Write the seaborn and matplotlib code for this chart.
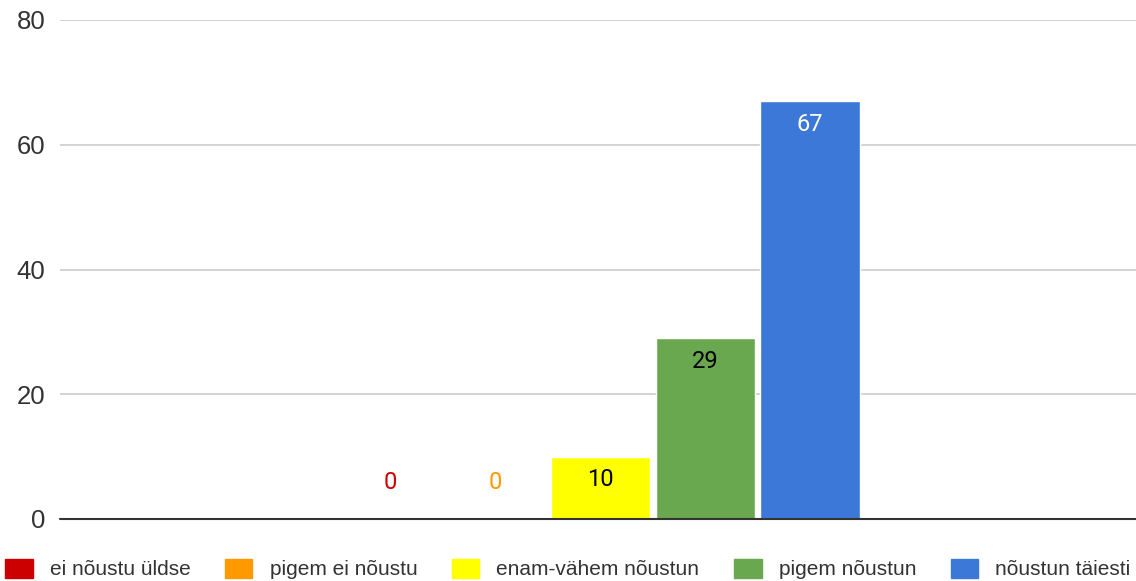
import matplotlib
matplotlib.use("Agg")
import matplotlib.pyplot as plt
import seaborn as sns
import pandas as pd

categories = ["ei nõustu üldse", "pigem ei nõustu", "enam-vähem nõustun",
              "pigem nõustun", "nõustun täiesti"]
values = [0, 0, 10, 29, 67]
colors = ["#cc0000", "#ff9900", "#ffff00", "#6aa84f", "#3c78d8"]
label_colors = ["#cc0000", "#ff9900", "#000000", "#000000", "#ffffff"]
yticks = [0, 20, 40, 60, 80]

df = pd.DataFrame({"group": ["x"] * len(values), "answer": categories, "count": values})

sns.set_style("white")
plt.rcParams["font.family"] = ["Liberation Sans", "DejaVu Sans"]

fig = plt.figure(figsize=(11.36, 5.81), dpi=100)
ax = fig.add_axes([60 / 1136, 1 - 519 / 581, 1 - 55 / 1136, 499 / 581])

sns.barplot(data=df, x="group", y="count", hue="answer", hue_order=categories,
            palette=colors, width=0.485, gap=0.05, saturation=1, ax=ax,
            legend=False)

ax.set_ylim(0, 80)
ax.set_xlim(-0.5, 0.5)
ax.set_yticks(yticks)
ax.set_xticks([])
ax.set_xlabel("")
ax.set_ylabel("")
ax.tick_params(axis="y", length=0, pad=10.5, labelsize=18.5, labelcolor="#333333")
for s in ax.spines.values():
    s.set_visible(False)
for t in yticks[1:]:
    ax.axhline(t, color="#cccccc", lw=1.2, zorder=0)
ax.axhline(0, color="#333333", lw=1.5, zorder=3, clip_on=False)

for cont, val, lc in zip(ax.containers, values, label_colors):
    bar = cont[0]
    cx = bar.get_x() + bar.get_width() / 2
    if val == 0:
        ax.annotate(str(val), (cx, 0), xytext=(0, 26), textcoords="offset points",
                    ha="center", va="center", fontsize=17, color=lc,
                    family="Roboto")
    else:
        ax.annotate(str(val), (cx, val), xytext=(0, -16.5), textcoords="offset points",
                    ha="center", va="center", fontsize=17, color=lc,
                    family="Roboto")

handles = [plt.Rectangle((0, 0), 1, 1, color=c) for c in colors]
fig.legend(handles, categories, loc="center", bbox_to_anchor=(0.5, 1 - 569 / 581),
           ncol=5, frameon=False, fontsize=15, handlelength=1.3,
           handleheight=1.06, handletextpad=0.82, columnspacing=1.68,
           labelcolor="#333333", borderpad=0, borderaxespad=0)

fig.savefig("out.png", dpi=100)
